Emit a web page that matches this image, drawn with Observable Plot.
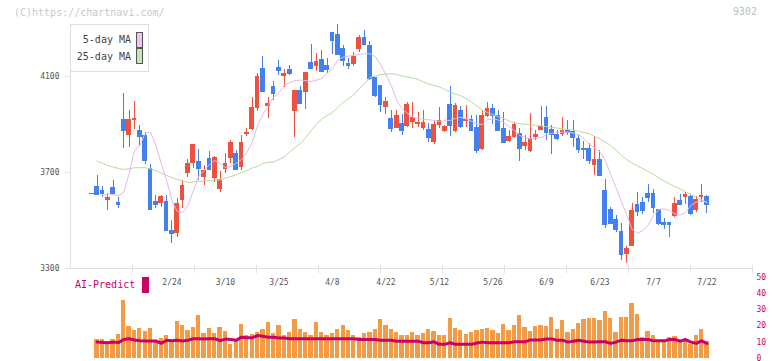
<!DOCTYPE html>
<html>
<head>
<meta charset="utf-8">
<script src="https://cdn.jsdelivr.net/npm/d3@7"></script>
<script src="https://cdn.jsdelivr.net/npm/@observablehq/plot@0.6"></script>
<style>
  html, body { margin: 0; padding: 0; background: #fff; }
  #chart { position: relative; width: 772px; height: 361px; overflow: hidden; font-family: "DejaVu Sans Mono", monospace; }
  #chart svg { position: absolute; left: 0; overflow: visible; }
  .note { position: absolute; font-size: 10px; line-height: 12px; white-space: pre; }
  #legend { position: absolute; left: 70px; top: 24px; width: 77px; height: 46px; border: 1px solid #dddddd; background: #fff; }
  #legend .row { position: absolute; right: 17px; font-size: 10px; line-height: 12px; color: #444; white-space: pre; }
  #legend .sw { position: absolute; left: 65px; width: 5px; height: 14px; border: 1px solid #555; }
</style>
</head>
<body>
<div id="chart">
  <div class="note" style="left:14px; top:7px; color:#c8c8c8;">(C)https://chartnavi.com/</div>
  <div class="note" style="left:733px; top:6px; color:#bdbdbd;">9302</div>
</div>
<script>
// Daily candles, oldest first (index 0 .. 115)
const open = [3610,3640,3625,3583,3638,3575,3921,3854,3917,3875,3854,3718,3579,3572,3579,3458,3447,3583,3696,3736,
  3746,3680,3758,3676,3629,3713,3758,3779,3721,3858,3880,3967,4133,3976,4058,4138,4101,4129,3954,4042,
  4033,4158,4143,4171,4146,4283,4275,4217,4154,4150,4214,4263,4229,4096,4063,3971,3925,3883,3904,3892,
  3908,3900,3883,3879,3825,3896,3871,3983,3871,3958,3913,3921,3888,3796,3933,3967,3938,3883,3829,3846,
  3863,3808,3788,3846,3876,3929,3879,3858,3858,3875,3871,3842,3800,3800,3730,3754,3625,3546,3504,3454,
  3360,3393,3567,3575,3613,3613,3546,3493,3493,3518,3583,3597,3600,3543,3596,3600];
const high = [3612,3688,3642,3611,3667,3597,4030,3958,3996,3896,3868,3733,3604,3604,3604,3500,3593,3667,3754,3817,
  3796,3729,3787,3767,3704,3779,3833,3792,3854,3883,4013,4111,4185,4013,4079,4167,4129,4146,4042,4058,
  4117,4233,4196,4208,4175,4283,4317,4229,4175,4200,4271,4292,4246,4096,4063,4013,3958,3958,3942,3992,
  3992,3951,3958,3904,3913,3971,3896,4058,3986,3975,3979,3938,3938,3958,3992,3983,3958,3950,3875,3908,
  3883,3854,3945,3875,3975,3975,3896,3875,3929,3917,3917,3854,3829,3822,3851,3792,3671,3554,3521,3488,
  3392,3571,3617,3596,3650,3629,3546,3510,3493,3596,3608,3617,3608,3600,3650,3604];
const low = [3610,3610,3597,3542,3612,3549,3800,3805,3878,3808,3733,3542,3549,3555,3454,3405,3430,3549,3680,3715,
  3667,3646,3708,3660,3617,3696,3738,3708,3708,3850,3876,3955,4038,3925,4000,4104,4055,4104,3847,3988,
  3963,4135,4121,4121,4111,4192,4193,4143,4129,4143,4201,4235,4083,4013,3950,3942,3867,3883,3854,3888,
  3885,3888,3875,3826,3817,3883,3867,3850,3867,3883,3889,3871,3780,3792,3929,3900,3871,3820,3825,3842,
  3746,3792,3783,3833,3875,3833,3775,3833,3850,3854,3805,3780,3755,3732,3689,3689,3468,3485,3451,3335,
  3322,3392,3518,3526,3576,3530,3480,3464,3430,3514,3568,3568,3522,3535,3576,3530];
const close = [3611,3610,3614,3597,3614,3567,3875,3921,3925,3850,3750,3546,3567,3600,3458,3447,3571,3646,3738,3817,
  3717,3710,3713,3763,3671,3738,3825,3713,3825,3867,3971,4100,4039,3988,4030,4126,4113,4113,4042,3988,
  4117,4135,4163,4121,4129,4251,4193,4168,4147,4183,4263,4235,4093,4021,3983,3996,3883,3938,3875,3983,
  3929,3908,3908,3846,3900,3917,3892,3896,3979,3892,3921,3875,3792,3938,3967,3938,3875,3826,3850,3900,
  3799,3825,3842,3858,3892,3867,3858,3842,3877,3867,3847,3797,3794,3751,3755,3689,3485,3489,3461,3360,
  3383,3542,3539,3543,3596,3555,3489,3485,3485,3571,3568,3608,3530,3588,3604,3568];

// Moving averages as plotted
const ma5 = [null,null,3607,3607,3608,3604,3617,3696,3792,3813,3863,3868,3813,3738,3667,3583,3537,3533,3563,3625,
  3683,3708,3733,3750,3738,3721,3725,3738,3754,3783,3825,3896,3942,3979,4013,4033,4063,4075,4083,4085,
  4083,4079,4085,4092,4113,4133,4167,4181,4185,4188,4192,4195,4195,4183,4150,4108,4063,4000,3967,3946,
  3931,3925,3921,3920,3917,3913,3915,3917,3925,3930,3923,3913,3902,3900,3921,3923,3919,3908,3892,3875,
  3854,3846,3840,3842,3846,3856,3863,3867,3868,3868,3865,3858,3842,3819,3802,3788,3750,3692,3637,3579,
  3525,3463,3446,3458,3481,3521,3546,3548,3542,3527,3523,3533,3563,3577,3583,3576];
const ma25 = [null,3748,3738,3729,3723,3717,3713,3715,3720,3720,3720,3715,3708,3698,3688,3679,3671,3665,3658,3660,
  3663,3665,3667,3667,3669,3677,3683,3690,3700,3708,3719,3725,3738,3743,3743,3754,3765,3786,3804,3821,
  3846,3875,3900,3923,3938,3950,3971,3992,4008,4023,4050,4069,4096,4102,4108,4110,4112,4108,4102,4098,
  4094,4088,4077,4069,4063,4056,4046,4035,4027,4020,4008,3994,3977,3960,3950,3940,3933,3925,3915,3908,
  3903,3901,3899,3896,3894,3891,3888,3885,3882,3879,3876,3872,3867,3862,3850,3840,3827,3813,3794,3771,
  3754,3739,3727,3716,3704,3693,3677,3664,3653,3642,3631,3620,3608,3597,3586,3575];

// Lower panel: bars and AI-Predict line (0-50 scale)
const volume = [null,11.6,11.6,10.5,11.6,14.7,35.9,19.7,17.2,18.4,16.6,18.4,10.3,12.2,14.1,9.7,22.8,20.3,17.2,19.1,
  26.6,15.3,18.4,15.3,19.1,16.6,8.4,11.6,20.9,14.1,14.7,15.9,18,22,15,20,14,16,24,18,
  16,14,22,16,14,15,18,20,17,14,13,15,16,18,24,20,18,16,14.2,14.2,
  16.1,14.2,15.5,17.8,16.6,14.2,14.2,24.7,18.4,17.2,14.9,16.1,17.2,18.0,18.4,17.4,15.5,20.9,17.2,20.5,
  26.6,19.1,16.6,19.7,20.3,19.7,25.3,17.8,23.4,15.9,17.8,21.6,24.1,24.7,24.7,23.4,29.1,24.7,15.9,25.3,
  25.3,34.1,27.2,12.8,16.6,14.1,10.9,10.9,12.8,13.4,10.9,11.6,8.4,14.1,17.8,10.3];
const aiPredict = [null,9.9,9.7,9.5,9.9,9.6,11.5,12,11.2,10.8,10.6,10.6,10.6,9.2,11,10.8,11,10.6,11,12,
  12,11.8,12,12,10.8,11.8,11.5,11,13,12.6,12.6,14,13.5,13,13,12.5,12.5,12,12,12,
  12,12,12,12,12,12,12,12,12,12,11.5,11.5,11.5,11.5,11,11,11,10.5,10.5,10.5,
  10.5,10.5,9.5,9.5,10.1,8.5,8.5,9.5,8.5,8.5,8.5,8.5,9.3,9.9,9.5,9.5,9.5,9.5,9.5,10.1,
  10.1,10.1,11.3,11.3,11.3,11.9,11.9,11.1,11.1,9.9,10.5,11.1,10.5,9.9,9.9,10.1,10.1,9.1,9.9,11.1,
  10.7,10.7,11.5,11.5,11.5,10.7,10.7,10.7,11.5,11.5,10.5,11.5,9.9,9.1,10.7,9.1];

// Date labels and the candles they sit under
const tickLabels = ["2/24","3/10","3/25","4/8","4/22","5/12","5/26","6/9","6/23","7/7","7/22"];
const tickIndex = [15,25,35,45,55,65,75,85,95,105,115];
const priceTicks = [3300,3700,4100];
const volumeTicks = [0,10,20,30,40,50];

const UP = "#f0513e", DOWN = "#4381ef";
const AXIS = "#e0e0e0", TEXT = "#555";
const MAGENTA = "#cc0066";

const candles = open.map((o, i) => ({i, open: o, high: high[i], low: low[i], close: close[i]}));
const ups = candles.filter(d => d.close >= d.open);
const downs = candles.filter(d => d.close < d.open);
const ma5Rows = ma5.map((v, i) => ({i, v}));
const ma25Rows = ma25.map((v, i) => ({i, v}));
const volRows = volume.map((v, i) => ({i, v})).filter(d => d.v != null);
const aiRows = aiPredict.map((v, i) => ({i, v})).filter(d => d.v != null);

const xDomain = [-3.96, 123.51];
const gridTicks = d3.range(1, 12).map(k => xDomain[0] + k * (xDomain[1] - xDomain[0]) / 11);
const half = 0.44;
const font = {fontFamily: "'DejaVu Sans Mono', monospace", fontSize: "8px", background: "transparent", overflow: "visible"};

function bodyMarks(rows, color) {
  return [
    Plot.ruleX(rows, {x: "i", y1: "low", y2: "high", stroke: color, shapeRendering: "crispEdges"}),
    Plot.rect(rows, {x1: d => d.i - half, x2: d => d.i + half, y1: "open", y2: "close", fill: color, shapeRendering: "crispEdges"}),
    Plot.ruleY(rows, {y: "close", x1: d => d.i - half, x2: d => d.i + half, stroke: color, shapeRendering: "crispEdges"})
  ];
}

const priceChart = Plot.plot({
  width: 772, height: 300,
  marginLeft: 70, marginRight: 20, marginTop: 24, marginBottom: 32,
  x: {domain: xDomain, axis: null},
  y: {domain: [3300, 4316.7], axis: null},
  style: font,
  marks: [
    Plot.frame({anchor: "left", stroke: AXIS}),
    Plot.ruleY([3300], {stroke: AXIS}),
    Plot.ruleX(gridTicks, {x: d => d, y1: 3300, y2: 3300, insetTop: -3, insetBottom: -5, stroke: AXIS}),
    Plot.axisY({ticks: priceTicks, tickSize: 5, tickFormat: () => "", stroke: AXIS, label: null}),
    Plot.axisY({ticks: priceTicks, tickSize: 0, tickPadding: 11, tickFormat: d => String(d), color: TEXT, label: null}),
    Plot.axisX({ticks: tickIndex, tickFormat: d => tickLabels[tickIndex.indexOf(d)], tickSize: 0, tickPadding: 11, color: TEXT, label: null}),
    ...bodyMarks(ups, UP),
    ...bodyMarks(downs, DOWN),
    Plot.line(ma25Rows, {x: "i", y: "v", stroke: "#b3dba3", strokeWidth: 1}),
    Plot.line(ma5Rows, {x: "i", y: "v", stroke: "#e7b6ee", strokeWidth: 1})
  ]
});
priceChart.style.top = "0px";

const volumeChart = Plot.plot({
  width: 772, height: 91,
  marginLeft: 70, marginRight: 20, marginTop: 8.3, marginBottom: 2.5,
  x: {domain: xDomain, axis: null},
  y: {domain: [0, 50], axis: null},
  style: font,
  marks: [
    Plot.rectY(volRows, {x1: d => d.i - 0.4, x2: d => d.i + 0.4, y: "v", fill: "#f39a45", shapeRendering: "crispEdges"}),
    Plot.line(aiRows, {x: "i", y: "v", stroke: MAGENTA, strokeWidth: 3}),
    Plot.axisY({anchor: "right", ticks: volumeTicks, tickSize: 0, tickPadding: 4, color: MAGENTA, label: null})
  ]
});
volumeChart.style.top = "269px";

const chart = document.getElementById("chart");
chart.append(priceChart, volumeChart);

// Moving-average legend
const legend = document.createElement("div");
legend.id = "legend";
legend.innerHTML =
  '<div class="row" style="top:9px">5-day MA</div>' +
  '<div class="sw" style="top:7px;background:#f0c4f4"></div>' +
  '<div class="row" style="top:26px">25-day MA</div>' +
  '<div class="sw" style="top:23px;background:#c4e4b8"></div>';
chart.append(legend);

// Lower panel title
const ai = document.createElement("div");
ai.className = "note";
ai.style.cssText = "left:75px; top:279px; color:" + MAGENTA + ";";
ai.textContent = "AI-Predict";
chart.append(ai);
const sq = document.createElement("div");
sq.style.cssText = "position:absolute; left:142px; top:277px; width:7px; height:16px; background:" + MAGENTA + ";";
chart.append(sq);
</script>
</body>
</html>
